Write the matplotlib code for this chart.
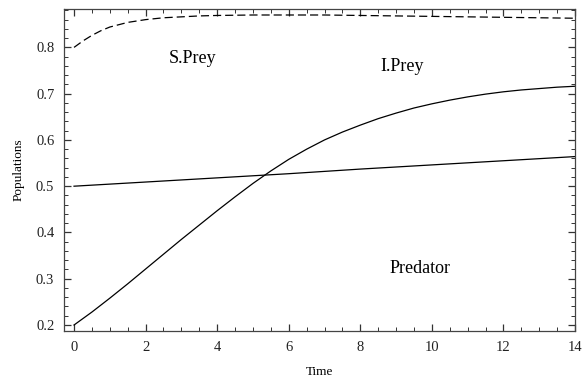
import matplotlib
matplotlib.use("Agg")
import matplotlib.pyplot as plt
from matplotlib.ticker import MultipleLocator

plt.rcParams['font.family'] = ['Liberation Serif', 'DejaVu Serif']

# Data
t_iprey = [0, 0.5, 1, 1.5, 2, 2.5, 3, 3.5, 4, 4.5, 5, 5.5, 6, 6.5, 7, 7.5,
           8, 8.5, 9, 9.5, 10, 10.5, 11, 11.5, 12, 12.5, 13, 13.5, 14]
i_prey = [0.200, 0.228, 0.258, 0.289, 0.321, 0.353, 0.385, 0.416, 0.447, 0.477,
          0.506, 0.533, 0.558, 0.580, 0.600, 0.617, 0.632, 0.646, 0.658, 0.669,
          0.678, 0.686, 0.693, 0.699, 0.704, 0.708, 0.711, 0.714, 0.716]

t_sprey = [0, 0.25, 0.5, 0.75, 1, 1.5, 2, 2.5, 3, 3.5, 4, 5, 6, 7, 8, 9, 10, 11, 12, 13, 14]
s_prey = [0.800, 0.814, 0.826, 0.836, 0.844, 0.854, 0.860, 0.864, 0.866, 0.868,
          0.869, 0.870, 0.870, 0.870, 0.869, 0.868, 0.867, 0.866, 0.865, 0.864, 0.863]

t_pred = [0, 2, 4, 6, 8, 10, 12, 14]
predator = [0.500, 0.509, 0.518, 0.527, 0.537, 0.546, 0.555, 0.564]

labels = ["S.Prey", "I.Prey", "Predator"]
label_t = [3.3, 9.16, 9.67]
label_v = [0.777, 0.758, 0.323]

fig = plt.figure(figsize=(5.83, 3.79), dpi=100)
ax = fig.add_axes([0.1098, 0.1266, 0.8765, 0.8497])

ax.plot(t_sprey, s_prey, color='black', lw=0.9, dashes=(6.5, 3.2))
ax.plot(t_iprey, i_prey, color='black', lw=0.9)
ax.plot(t_pred, predator, color='black', lw=0.9)

for s, x, y in zip(labels, label_t, label_v):
    ax.text(x, y, s, fontsize=13, ha='center', va='center', color='black')

ax.set_xlim(-0.28, 14)
ax.set_ylim(0.187, 0.883)
ax.xaxis.set_major_locator(MultipleLocator(2))
ax.xaxis.set_minor_locator(MultipleLocator(0.5))
ax.yaxis.set_major_locator(MultipleLocator(0.1))
ax.yaxis.set_minor_locator(MultipleLocator(0.02))
ax.tick_params(which='both', direction='in', top=True, right=True,
               labelsize=10.5, colors='#333333', labelcolor='#222222', pad=7)
ax.tick_params(which='major', length=5, width=0.9)
ax.tick_params(which='minor', length=3, width=0.7)
for sp in ax.spines.values():
    sp.set_color('#444444')
    sp.set_linewidth(0.9)

ax.set_xlabel('Time', fontsize=9.5, labelpad=9)
ax.set_ylabel('Populations', fontsize=9.5, labelpad=8)

fig.savefig('out.png', dpi=100)
